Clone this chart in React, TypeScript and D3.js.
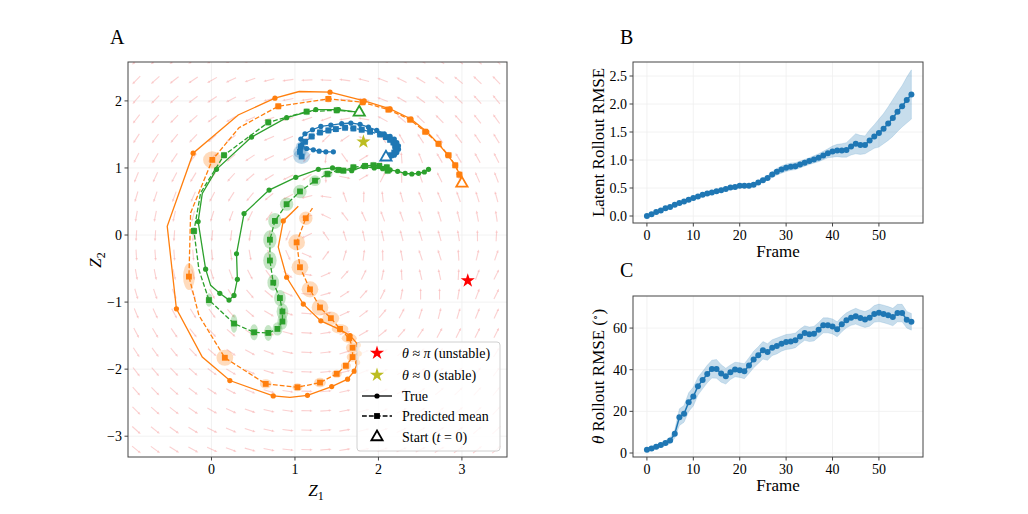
import * as d3 from "d3"

const W = 1028
const H = 514
const FONT = "'Liberation Serif', 'DejaVu Serif', serif"

const ORANGE = "#ff7f0e"
const GREEN = "#2ca02c"
const BLUE = "#1f77b4"

// Rollout error curves, one value per frame
const frames = d3.range(58)
const latentRmse = [0.00, 0.03, 0.07, 0.10, 0.14, 0.16, 0.20, 0.23, 0.26, 0.29, 0.32, 0.35, 0.38, 0.40, 0.42, 0.44, 0.46, 0.48, 0.51, 0.52, 0.54, 0.54, 0.54, 0.56, 0.60, 0.64, 0.68, 0.74, 0.79, 0.83, 0.86, 0.88, 0.89, 0.92, 0.95, 0.98, 1.01, 1.04, 1.08, 1.12, 1.15, 1.17, 1.17, 1.18, 1.24, 1.29, 1.27, 1.27, 1.35, 1.42, 1.48, 1.56, 1.65, 1.75, 1.86, 1.96, 2.07, 2.17]
const latentStd = [0.005, 0.008, 0.01, 0.01, 0.012, 0.012, 0.014, 0.014, 0.015, 0.015, 0.016, 0.016, 0.017, 0.017, 0.018, 0.018, 0.019, 0.019, 0.02, 0.02, 0.02, 0.02, 0.022, 0.025, 0.03, 0.035, 0.04, 0.05, 0.06, 0.065, 0.065, 0.065, 0.062, 0.06, 0.06, 0.06, 0.065, 0.07, 0.075, 0.08, 0.1, 0.11, 0.12, 0.13, 0.15, 0.18, 0.17, 0.16, 0.19, 0.21, 0.25, 0.27, 0.3, 0.33, 0.35, 0.37, 0.41, 0.44]
const thetaRmse = [1.6, 2.2, 3.0, 3.8, 4.8, 6.0, 9.2, 17.2, 18.8, 24.4, 27.1, 32.1, 35.0, 37.9, 40.3, 40.4, 38.2, 36.9, 38.8, 40.1, 39.8, 39.3, 42.0, 44.9, 47.0, 49.3, 48.5, 50.6, 51.4, 52.5, 53.3, 53.6, 54.1, 56.0, 57.6, 57.0, 57.3, 59.2, 61.3, 61.3, 60.8, 59.4, 61.8, 63.7, 64.9, 65.7, 64.8, 64.1, 64.9, 66.8, 67.3, 66.8, 66.1, 65.3, 67.2, 67.2, 64.0, 63.0]
const thetaStd = [0.8, 0.9, 1.0, 1.1, 1.2, 1.4, 2.0, 4.0, 4.0, 4.5, 4.5, 4.3, 4.2, 4.2, 4.3, 4.5, 4.2, 3.8, 3.5, 3.5, 3.5, 3.6, 3.8, 4.0, 4.0, 4.2, 4.0, 3.8, 3.8, 3.6, 3.6, 3.6, 3.5, 3.5, 3.5, 3.5, 3.5, 3.5, 3.6, 3.6, 3.6, 3.6, 3.6, 3.6, 3.6, 3.8, 3.8, 3.8, 4.0, 4.0, 4.2, 4.2, 4.2, 4.2, 4.2, 4.2, 4.0, 4.0]

// Latent trajectories: true paths are [z1, z2, marker?]
const orangeTrue = [
  [3.00, 0.77, 1], [2.97, 0.91, 1], [2.92, 1.04, 1], [2.83, 1.19, 1], [2.72, 1.36, 1], [2.58, 1.54, 1],
  [2.39, 1.73, 1], [2.14, 1.88, 1], [1.83, 2.00, 1], [1.42, 2.13, 1], [1.05, 2.14, 0], [0.76, 2.04, 1],
  [0.32, 1.79, 0], [-0.22, 1.22, 1], [-0.53, 0.13, 0], [-0.42, -1.10, 1], [-0.11, -1.82, 0], [0.22, -2.17, 1],
  [0.74, -2.40, 1], [0.94, -2.42, 0], [1.15, -2.39, 1], [1.44, -2.26, 1], [1.63, -2.15, 1], [1.71, -2.03, 1],
  [1.75, -1.90, 1], [1.77, -1.77, 1], [1.76, -1.64, 1], [1.66, -1.50, 1], [1.54, -1.41, 1], [1.31, -1.28, 1],
  [1.10, -1.03, 1], [0.90, -0.63, 1], [0.80, -0.18, 0], [0.86, 0.21, 1], [1.04, 0.43, 0],
]
const greenTrue = [
  [1.77, 1.83, 1], [1.52, 1.87, 1], [1.25, 1.87, 1], [0.90, 1.75, 1], [0.48, 1.46, 1], [0.06, 0.98, 1],
  [-0.11, 0.62, 0], [-0.16, 0.20, 1], [-0.07, -0.51, 1], [-0.01, -0.75, 0], [0.10, -0.87, 1], [0.21, -0.97, 1],
  [0.27, -0.90, 1], [0.31, -0.66, 1], [0.30, -0.28, 1], [0.39, 0.32, 1], [0.69, 0.67, 1], [1.01, 0.86, 1],
  [1.28, 0.98, 1], [1.45, 1.00, 1], [1.68, 0.96, 1], [1.82, 1.02, 1], [1.95, 1.00, 1], [2.05, 0.99, 1],
  [2.14, 0.97, 1], [2.23, 0.95, 1], [2.32, 0.92, 1], [2.40, 0.91, 1], [2.48, 0.92, 1], [2.55, 0.94, 1],
  [2.60, 0.98, 1],
]
const blueTrue = [
  [2.09, 1.16, 1], [2.14, 1.17, 1], [2.19, 1.19, 1], [2.22, 1.23, 1], [2.24, 1.28, 1], [2.24, 1.33, 1],
  [2.22, 1.38, 1], [2.19, 1.43, 1], [2.14, 1.47, 1], [2.07, 1.51, 1], [1.98, 1.56, 1], [1.88, 1.61, 1],
  [1.78, 1.65, 1], [1.67, 1.67, 1], [1.56, 1.66, 1], [1.43, 1.64, 1], [1.31, 1.62, 1], [1.21, 1.57, 1],
  [1.12, 1.51, 1], [1.07, 1.43, 1], [1.08, 1.34, 1], [1.14, 1.29, 1], [1.22, 1.27, 1], [1.29, 1.25, 1],
  [1.37, 1.24, 1], [1.46, 1.24, 1],
]

// Predicted means: [z1, z2, spread z1, spread z2, marker?]
const orangePred = [
  [3.00, 0.77, 0, 0, 1], [2.97, 0.90, 0.02, 0.02, 1], [2.92, 1.04, 0.02, 0.02, 1], [2.84, 1.19, 0.02, 0.02, 1],
  [2.72, 1.36, 0.02, 0.02, 1], [2.56, 1.54, 0.02, 0.02, 1], [2.38, 1.72, 0.03, 0.03, 1], [2.12, 1.87, 0.03, 0.03, 1],
  [1.81, 1.98, 0.03, 0.03, 1], [1.40, 2.03, 0.03, 0.03, 1], [0.80, 1.92, 0.04, 0.04, 1], [0.33, 1.60, 0, 0, 0],
  [0.01, 1.12, 0.11, 0.13, 1], [-0.25, 0.33, 0, 0, 0], [-0.27, -0.62, 0.07, 0.2, 1], [-0.15, -1.20, 0, 0, 0],
  [0.16, -1.83, 0.1, 0.12, 1], [0.65, -2.22, 0.07, 0.07, 1], [1.03, -2.27, 0.06, 0.06, 1], [1.30, -2.20, 0.07, 0.07, 1],
  [1.50, -2.07, 0.06, 0.06, 1], [1.61, -1.95, 0.06, 0.06, 1], [1.69, -1.82, 0.07, 0.07, 1], [1.69, -1.68, 0.08, 0.08, 1],
  [1.65, -1.54, 0.09, 0.07, 1], [1.54, -1.40, 0.1, 0.07, 1], [1.43, -1.24, 0.1, 0.1, 1], [1.30, -1.08, 0.1, 0.12, 1],
  [1.18, -0.81, 0.1, 0.12, 1], [1.06, -0.48, 0.1, 0.12, 1], [1.02, -0.11, 0.1, 0.12, 1], [1.13, 0.25, 0.08, 0.1, 1],
  [1.21, 0.40, 0, 0, 0],
]
const greenPred = [
  [1.77, 1.83, 0, 0, 1], [1.50, 1.86, 0.02, 0.02, 1], [1.14, 1.84, 0.02, 0.02, 1], [0.68, 1.68, 0.02, 0.02, 1],
  [0.15, 1.19, 0.03, 0.03, 1], [-0.13, 0.63, 0, 0, 0], [-0.21, 0.06, 0.03, 0.06, 1], [-0.15, -0.52, 0, 0, 0],
  [-0.03, -0.97, 0.03, 0.1, 1], [0.27, -1.32, 0.04, 0.14, 1], [0.51, -1.45, 0.05, 0.12, 1], [0.68, -1.46, 0.05, 0.12, 1],
  [0.79, -1.40, 0.06, 0.1, 1], [0.85, -1.29, 0.06, 0.12, 1], [0.85, -1.14, 0.07, 0.12, 1], [0.82, -0.94, 0.07, 0.12, 1],
  [0.74, -0.71, 0.07, 0.12, 1], [0.70, -0.38, 0.08, 0.14, 1], [0.70, -0.07, 0.08, 0.14, 1], [0.76, 0.21, 0.08, 0.12, 1],
  [0.90, 0.46, 0.08, 0.1, 1], [1.06, 0.65, 0.08, 0.1, 1], [1.24, 0.81, 0.07, 0.08, 1], [1.39, 0.91, 0.06, 0.06, 1],
  [1.52, 0.97, 0.05, 0.05, 1], [1.58, 0.96, 0.04, 0.04, 1], [1.70, 1.01, 0.04, 0.04, 1], [1.84, 1.03, 0.03, 0.03, 1],
  [1.94, 1.04, 0.03, 0.03, 1], [2.01, 1.03, 0.03, 0.03, 1], [2.10, 1.01, 0.03, 0.03, 1], [2.11, 0.96, 0.03, 0.03, 1],
]
const bluePred = [
  [2.09, 1.16, 0, 0, 1], [2.15, 1.19, 0.01, 0.01, 1], [2.19, 1.23, 0.01, 0.01, 1], [2.21, 1.28, 0.01, 0.01, 1],
  [2.20, 1.33, 0.01, 0.01, 1], [2.18, 1.38, 0.015, 0.015, 1], [2.14, 1.42, 0.015, 0.015, 1], [2.09, 1.46, 0.015, 0.015, 1],
  [2.02, 1.50, 0.02, 0.02, 1], [1.90, 1.54, 0.02, 0.02, 1], [1.80, 1.57, 0.02, 0.02, 1], [1.70, 1.59, 0.02, 0.02, 1],
  [1.60, 1.60, 0.02, 0.02, 1], [1.49, 1.58, 0.02, 0.02, 1], [1.40, 1.56, 0.025, 0.025, 1], [1.30, 1.53, 0.03, 0.03, 1],
  [1.20, 1.47, 0.035, 0.035, 1], [1.12, 1.39, 0.04, 0.05, 1], [1.07, 1.32, 0.06, 0.07, 1], [1.06, 1.24, 0.08, 0.09, 1],
  [1.08, 1.17, 0.1, 0.11, 1],
]

const unstablePoint = [3.07, -0.68]
const stablePoint = [1.82, 1.39]

const latentXTicks = [0, 1, 2, 3]
const latentYTicks = [-3, -2, -1, 0, 1, 2]
const frameTicks = [0, 10, 20, 30, 40, 50]
const latentRmseTicks = [0, 0.5, 1, 1.5, 2, 2.5]
const thetaTicks = [0, 20, 40, 60]

// learned latent dynamics used for the background quiver
const flowCenter = [1.2, -0.15]
function flow(x: number, y: number) {
  const dx = x - flowCenter[0]
  const dy = y - flowCenter[1]
  let vx = -dy / (2.3 * 2.3)
  let vy = dx / (1.9 * 1.9)
  const sx = x - stablePoint[0]
  const sy = y - stablePoint[1]
  const w = Math.exp(-(sx * sx + sy * sy) / 0.25) * 2.5
  vx += -sy * w
  vy += sx * w
  const ux = x - unstablePoint[0]
  const uy = y - unstablePoint[1]
  const wu = Math.exp(-(ux * ux + uy * uy) / 0.4) * 0.6
  vx += ux * wu
  vy += -uy * wu
  return [vx, vy]
}

const minus = (v: number, f: (n: number) => string) => f(v).replace("-", "\u2212")

function Axes({ x, y, xTicks, yTicks, fmtX, fmtY }: any) {
  const [x0, x1] = x.range()
  const [y0, y1] = y.range()
  return (
    <g>
      <rect x={x0} y={y1} width={x1 - x0} height={y0 - y1} fill="none" stroke="#444" strokeWidth={1} />
      {xTicks.map((t: number) => (
        <g key={"x" + t}>
          <line x1={x(t)} x2={x(t)} y1={y0} y2={y0 + 3.5} stroke="#444" />
          <text x={x(t)} y={y0 + 17} textAnchor="middle" fontSize={14}>{minus(t, fmtX)}</text>
        </g>
      ))}
      {yTicks.map((t: number) => (
        <g key={"y" + t}>
          <line x1={x0 - 3.5} x2={x0} y1={y(t)} y2={y(t)} stroke="#444" />
          <text x={x0 - 6} y={y(t) + 4.8} textAnchor="end" fontSize={14}>{minus(t, fmtY)}</text>
        </g>
      ))}
    </g>
  )
}

function Grid({ x, y, xTicks, yTicks }: any) {
  const [x0, x1] = x.range()
  const [y0, y1] = y.range()
  return (
    <g stroke="#efefef" strokeWidth={0.8}>
      {xTicks.map((t: number) => <line key={"gx" + t} x1={x(t)} x2={x(t)} y1={y0} y2={y1} />)}
      {yTicks.map((t: number) => <line key={"gy" + t} x1={x0} x2={x1} y1={y(t)} y2={y(t)} />)}
    </g>
  )
}

function SeriesPanel({ y, values, spread, yTicks, fmtY, letter, letterY, label }: any) {
  const x = d3.scaleLinear().domain([-3.0, 59.5]).range([633, 923])
  const band = d3.area<number>()
    .x((i) => x(frames[i]))
    .y0((i) => y(values[i] - spread[i]))
    .y1((i) => y(values[i] + spread[i]))
  const line = d3.line<number>().x((i) => x(frames[i])).y((i) => y(values[i]))
  const idx = frames.map((_, i) => i)
  const [y0, y1] = y.range()
  return (
    <g>
      <Grid x={x} y={y} xTicks={frameTicks} yTicks={yTicks} />
      <path d={band(idx) || ""} fill={BLUE} fillOpacity={0.25} stroke={BLUE} strokeOpacity={0.15} />
      <path d={line(idx) || ""} fill="none" stroke={BLUE} strokeWidth={1.5} />
      {idx.map((i) => <circle key={i} cx={x(frames[i])} cy={y(values[i])} r={3} fill={BLUE} />)}
      <Axes x={x} y={y} xTicks={frameTicks} yTicks={yTicks} fmtX={d3.format("d")} fmtY={fmtY} />
      <text x={778} y={y0 + 34} textAnchor="middle" fontSize={17}>Frame</text>
      <text transform={`translate(604,${(y0 + y1) / 2}) rotate(-90)`} textAnchor="middle" fontSize={17}>{label}</text>
      <text x={620} y={letterY} fontSize={20}>{letter}</text>
    </g>
  )
}

export default function App() {
  const xA = d3.scaleLinear().domain([-1, 3.54]).range([128, 507])
  const yA = d3.scaleLinear().domain([-3.31, 2.58]).range([457, 62])
  const yB = d3.scaleLinear().domain([-0.125, 2.75]).range([223, 62])
  const yC = d3.scaleLinear().domain([-1.92, 75.4]).range([457, 296])

  const path = d3.line<number[]>().x((d) => xA(d[0])).y((d) => yA(d[1]))

  // quiver arrows on a regular grid
  const qx = d3.range(-0.9, 3.5, 0.227)
  const qy = d3.range(-3.2, 2.6, 0.29)
  const arrows: { x: number; y: number; a: number }[] = []
  qy.forEach((gy) => qx.forEach((gx) => {
    const [vx, vy] = flow(gx, gy)
    arrows.push({ x: xA(gx), y: yA(gy), a: Math.atan2(-vy * 67, vx * 83.7) })
  }))

  const trajectories = [
    { truth: orangeTrue, pred: orangePred, color: ORANGE },
    { truth: greenTrue, pred: greenPred, color: GREEN },
    { truth: blueTrue, pred: bluePred, color: BLUE },
  ]

  const star = d3.symbol(d3.symbolStar, 62)() || ""
  const tri = d3.symbol(d3.symbolTriangle, 55)() || ""
  const square = d3.symbol(d3.symbolSquare, 34)() || ""

  const legendRows = [353, 375, 396, 416, 437]

  return (
    <svg width={W} height={H} style={{ position: "absolute", left: 0, top: 0, background: "#fff" }} fontFamily={FONT} fill="#000">
      <defs>
        <clipPath id="clipA">
          <rect x={128} y={62} width={379} height={395} />
        </clipPath>
      </defs>

      {/* panel A: latent phase portrait */}
      <Grid x={xA} y={yA} xTicks={latentXTicks} yTicks={latentYTicks} />
      <g clipPath="url(#clipA)">
        <g stroke="#f58a8a" strokeOpacity={0.4} strokeWidth={1.1} fill="#f58a8a" fillOpacity={0.4}>
          {arrows.map((d, i) => (
            <g key={i} transform={`translate(${d.x},${d.y}) rotate(${(d.a * 180) / Math.PI})`}>
              <line x1={-5.5} x2={3.5} y1={0} y2={0} />
              <path d="M3,-1.3L5.8,0L3,1.3Z" stroke="none" />
            </g>
          ))}
        </g>

        {trajectories.map((t, ti) => (
          <g key={"h" + ti} fill={t.color} fillOpacity={0.28}>
            {t.pred.filter((p) => p[4] && p[2] > 0).map((p, i) => (
              <ellipse key={i} cx={xA(p[0])} cy={yA(p[1])}
                rx={Math.max(p[2] * 83.7, 3.5)} ry={Math.max(p[3] * 67, 3.5)} />
            ))}
          </g>
        ))}

        {trajectories.map((t, ti) => (
          <g key={"t" + ti}>
            <path d={path(t.truth) || ""} fill="none" stroke={t.color} strokeWidth={1.3} />
            <path d={path(t.pred) || ""} fill="none" stroke={t.color} strokeWidth={1.3} strokeDasharray="4.8,2.1" />
            {t.truth.filter((p) => p[2]).map((p, i) => (
              <circle key={"c" + i} cx={xA(p[0])} cy={yA(p[1])} r={2.6} fill={t.color} />
            ))}
            {t.pred.filter((p) => p[4]).map((p, i) => (
              <path key={"s" + i} d={square} transform={`translate(${xA(p[0])},${yA(p[1])})`} fill={t.color} />
            ))}
          </g>
        ))}

        {trajectories.map((t, ti) => (
          <path key={"start" + ti} d={tri} transform={`translate(${xA(t.truth[0][0])},${yA(t.truth[0][1])})`}
            fill="#fff" stroke={t.color} strokeWidth={1.8} />
        ))}

        <path d={star} transform={`translate(${xA(unstablePoint[0])},${yA(unstablePoint[1])})`} fill="#ff0000" />
        <path d={star} transform={`translate(${xA(stablePoint[0])},${yA(stablePoint[1])})`} fill="#bcbd22" />
      </g>

      <Axes x={xA} y={yA} xTicks={latentXTicks} yTicks={latentYTicks} fmtX={d3.format("d")} fmtY={d3.format("d")} />
      <text x={316} y={496} textAnchor="middle" fontSize={17}>
        <tspan fontStyle="italic">Z</tspan><tspan fontSize={12} dy={4}>1</tspan>
      </text>
      <text transform="translate(101,260) rotate(-90)" textAnchor="middle" fontSize={17}>
        <tspan fontStyle="italic">Z</tspan><tspan fontSize={12} dy={4}>2</tspan>
      </text>
      <text x={110} y={44} fontSize={20}>A</text>

      {/* legend */}
      <g>
        <rect x={357} y={342} width={143} height={109} rx={3} fill="#fff" fillOpacity={0.82} stroke="#d0d0d0" />
        <path d={star} transform={`translate(377,${legendRows[0]})`} fill="#ff0000" />
        <path d={star} transform={`translate(377,${legendRows[1]})`} fill="#bcbd22" />
        <line x1={362} x2={392} y1={legendRows[2]} y2={legendRows[2]} stroke="#000" strokeWidth={1.3} />
        <circle cx={377} cy={legendRows[2]} r={2.6} fill="#000" />
        <line x1={362} x2={392} y1={legendRows[3]} y2={legendRows[3]} stroke="#000" strokeWidth={1.3} strokeDasharray="4.8,2.1" />
        <path d={square} transform={`translate(377,${legendRows[3]})`} fill="#000" />
        <path d={tri} transform={`translate(377,${legendRows[4]})`} fill="#fff" stroke="#000" strokeWidth={1.8} />
        <g fontSize={14}>
          <text x={402} y={legendRows[0] + 5}><tspan fontStyle="italic">θ</tspan> ≈ <tspan fontStyle="italic">π</tspan> (unstable)</text>
          <text x={402} y={legendRows[1] + 5}><tspan fontStyle="italic">θ</tspan> ≈ 0 (stable)</text>
          <text x={402} y={legendRows[2] + 5}>True</text>
          <text x={402} y={legendRows[3] + 5}>Predicted mean</text>
          <text x={402} y={legendRows[4] + 5}>Start (<tspan fontStyle="italic">t</tspan> = 0)</text>
        </g>
      </g>

      {/* panels B and C: rollout error over frames */}
      <SeriesPanel y={yB} values={latentRmse} spread={latentStd} yTicks={latentRmseTicks}
        fmtY={d3.format(".1f")} letter="B" letterY={44} label="Latent Rollout RMSE" />
      <SeriesPanel y={yC} values={thetaRmse} spread={thetaStd} yTicks={thetaTicks}
        fmtY={d3.format("d")} letter="C" letterY={277}
        label={<><tspan fontStyle="italic">θ</tspan> Rollout RMSE (<tspan dy={-5} fontSize={11}>∘</tspan><tspan dy={5}>)</tspan></>} />
    </svg>
  )
}
